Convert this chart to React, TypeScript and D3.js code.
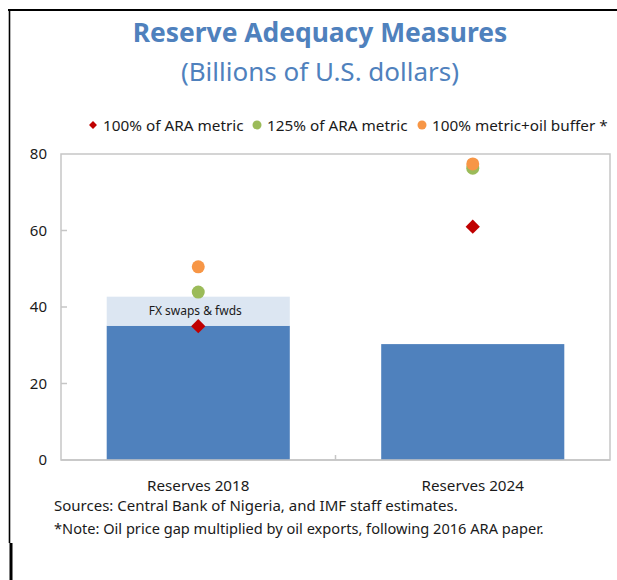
import React, { useRef, useEffect } from 'react';
import * as d3 from 'd3';

// chart values
const categories = ['Reserves 2018', 'Reserves 2024'];
const reserves = [35.1, 30.3];
const fxSwaps = [7.6, 0];
const ara100 = [35.0, 61.0];
const ara125 = [43.9, 76.3];
const oilBuffer = [50.5, 77.4];
const yTicks = [0, 20, 40, 60, 80];

const legendItems = [
  { label: '100% of ARA metric', color: '#c00000', shape: 'diamond' },
  { label: '125% of ARA metric', color: '#9bbb59', shape: 'circle' },
  { label: '100% metric+oil buffer *', color: '#f79646', shape: 'circle' },
];

const FONT = '"Noto Sans", "Open Sans", sans-serif';

export default function App() {
  const ref = useRef<SVGSVGElement | null>(null);

  useEffect(() => {
    const width = 617;
    const height = 580;
    const left = 61, right = 610, top = 154, bottom = 460;

    const svg = d3.select(ref.current);
    svg.selectAll('*').remove();
    svg.attr('width', width).attr('height', height);

    svg.append('rect').attr('width', width).attr('height', height).attr('fill', 'white');

    // frame lines of the cropped page
    svg.append('line').attr('x1', 8).attr('x2', width).attr('y1', 10).attr('y2', 10)
      .attr('stroke', 'black').attr('stroke-width', 2);
    svg.append('line').attr('x1', 9.5).attr('x2', 9.5).attr('y1', 9).attr('y2', 543)
      .attr('stroke', 'black').attr('stroke-width', 1.6);
    svg.append('line').attr('x1', 11).attr('x2', 11).attr('y1', 543).attr('y2', height)
      .attr('stroke', 'black').attr('stroke-width', 3);

    // titles
    svg.append('text').attr('x', 320).attr('y', 42).attr('text-anchor', 'middle')
      .style('font-family', FONT).style('font-size', '26.4px').style('font-weight', 'bold')
      .attr('fill', '#4f81bd').text('Reserve Adequacy Measures');
    svg.append('text').attr('x', 320).attr('y', 81).attr('text-anchor', 'middle')
      .style('font-family', FONT).style('font-size', '26px')
      .attr('fill', '#4f81bd').text('(Billions of U.S. dollars)');

    const x = d3.scaleBand().domain(categories).range([left, right]).paddingInner(0.333).paddingOuter(0.1665);
    const y = d3.scaleLinear().domain([0, 80]).range([bottom, top]);

    // plot area frame
    svg.append('rect').attr('x', left).attr('y', top).attr('width', right - left).attr('height', bottom - top)
      .attr('fill', 'none').attr('stroke', '#c6c6c6').attr('stroke-width', 1.5);

    // y ticks (inward) and labels
    svg.selectAll('line.ytick').data(yTicks.filter(d => d > 0 && d < 80)).enter().append('line')
      .attr('class', 'ytick').attr('x1', left).attr('x2', left + 6)
      .attr('y1', d => y(d)).attr('y2', d => y(d)).attr('stroke', '#c6c6c6').attr('stroke-width', 1.5);
    svg.selectAll('text.ylab').data(yTicks).enter().append('text')
      .attr('class', 'ylab').attr('x', 47).attr('y', d => y(d) + 5).attr('text-anchor', 'end')
      .style('font-family', FONT).style('font-size', '15px').attr('fill', '#1a1a1a').text(d => d);

    // category boundary tick
    const step = x.step();
    svg.append('line').attr('x1', left + step).attr('x2', left + step).attr('y1', bottom).attr('y2', bottom - 5)
      .attr('stroke', '#c6c6c6').attr('stroke-width', 1.5);

    // bars
    svg.selectAll('rect.res').data(reserves).enter().append('rect')
      .attr('class', 'res').attr('x', (d, i) => x(categories[i])!).attr('width', x.bandwidth())
      .attr('y', d => y(d)).attr('height', d => bottom - y(d)).attr('fill', '#4f81bd');
    svg.selectAll('rect.fx').data(fxSwaps).enter().append('rect')
      .attr('class', 'fx').attr('x', (d, i) => x(categories[i])!).attr('width', x.bandwidth())
      .attr('y', (d, i) => y(reserves[i] + d)).attr('height', (d, i) => y(reserves[i]) - y(reserves[i] + d))
      .attr('fill', '#dce6f2');
    svg.append('text').attr('x', x(categories[0])! + x.bandwidth() / 2 - 3).attr('y', y(reserves[0] + fxSwaps[0] / 2) + 4)
      .attr('text-anchor', 'middle').style('font-family', FONT).style('font-size', '12px')
      .attr('fill', '#1a1a1a').text('FX swaps & fwds');

    // bottom axis line over bars
    svg.append('line').attr('x1', left).attr('x2', right).attr('y1', bottom).attr('y2', bottom)
      .attr('stroke', '#c6c6c6').attr('stroke-width', 1.5);

    const cx = (i: number) => x(categories[i])! + x.bandwidth() / 2;
    const diamond = d3.symbol().type(d3.symbolDiamond2).size(130);

    svg.selectAll('circle.g').data(ara125).enter().append('circle')
      .attr('class', 'g').attr('cx', (d, i) => cx(i)).attr('cy', d => y(d)).attr('r', 6.5).attr('fill', '#9bbb59');
    svg.selectAll('circle.o').data(oilBuffer).enter().append('circle')
      .attr('class', 'o').attr('cx', (d, i) => cx(i)).attr('cy', d => y(d)).attr('r', 6.5).attr('fill', '#f79646');
    svg.selectAll('path.r').data(ara100).enter().append('path')
      .attr('class', 'r').attr('d', diamond).attr('transform', (d, i) => `translate(${cx(i)},${y(d)})`)
      .attr('fill', '#c00000');

    // x labels
    svg.selectAll('text.xlab').data(categories).enter().append('text')
      .attr('class', 'xlab').attr('x', (d, i) => cx(i)).attr('y', 491).attr('text-anchor', 'middle')
      .style('font-family', FONT).style('font-size', '15.2px').attr('fill', '#1a1a1a').text(d => d);

    // legend
    const legendX = [93, 257, 422];
    legendItems.forEach((item, i) => {
      const g = svg.append('g').attr('transform', `translate(${legendX[i]},125)`);
      if (item.shape === 'diamond') {
        g.append('path').attr('d', d3.symbol().type(d3.symbolDiamond2).size(40)).attr('fill', item.color);
      } else {
        g.append('circle').attr('r', 4.5).attr('fill', item.color);
      }
      g.append('text').attr('x', 10).attr('y', 5.5).style('font-family', FONT).style('font-size', '15.3px')
        .attr('fill', '#1a1a1a').text(item.label);
    });

    // notes
    svg.append('text').attr('x', 54).attr('y', 511).style('font-family', FONT).style('font-size', '15px')
      .attr('fill', '#1a1a1a').text('Sources: Central Bank of Nigeria, and IMF staff estimates.');
    svg.append('text').attr('x', 54).attr('y', 534).style('font-family', FONT).style('font-size', '14.6px')
      .attr('fill', '#1a1a1a').text('*Note: Oil price gap multiplied by oil exports, following 2016 ARA paper.');
  }, []);

  return (
    <div>
      <svg ref={ref} style={{ position: 'absolute', left: 0, top: 0 }}></svg>
    </div>
  );
}
